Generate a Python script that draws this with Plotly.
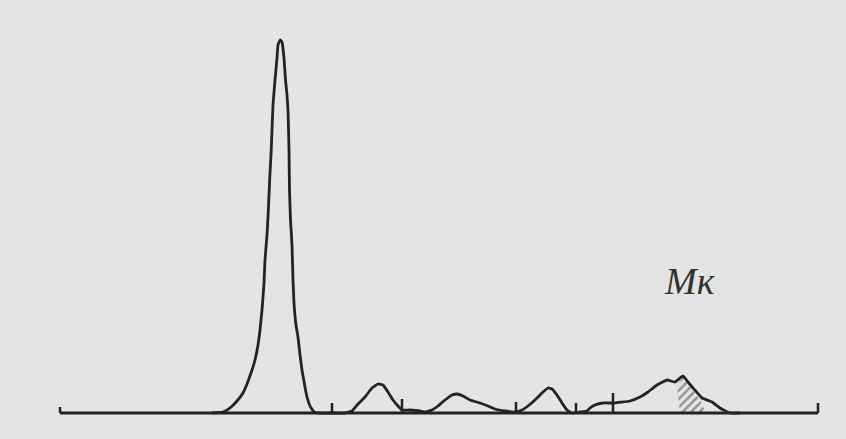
import plotly.graph_objects as go

# Densitogram (electrophoresis scan); x = position along strip, y = optical density
# positions/densities (arbitrary units)
X0, Y0 = 60, 413  # reference origin of reading grid

curve_x = [212, 223, 230, 237, 243, 247, 251, 255, 258, 260, 262, 263, 264, 265, 267, 268, 269, 270, 271, 272, 273, 275, 277, 278, 280, 282, 284, 285.5, 287, 288, 289, 289.5, 290.5, 292, 293, 294, 296, 298, 300, 302, 305, 307, 310, 314, 318,
           332, 345, 352, 358, 365, 372, 378, 383, 388, 393, 398, 402, 410, 420, 425, 432, 438, 445, 452, 457, 463, 470, 480, 488, 495, 505, 515,
           522, 528, 535, 542, 548, 552, 557, 562, 567, 572, 580, 587, 590, 595, 603, 613, 630, 640, 648, 657, 667, 675, 683, 688, 693, 702, 712, 720, 730, 740]
curve_y = [413, 412, 408, 401, 393, 384, 373, 360, 345, 330, 310, 297, 283, 260, 235, 217, 195, 173, 155, 130, 105, 80, 58, 45, 40, 42, 58, 80, 95, 110, 150, 190, 220, 245, 280, 303, 325, 337, 355, 370, 387, 397, 406, 412, 413,
           413, 413, 411, 404, 397, 388, 384, 385, 392, 400, 406, 410, 410, 411, 412, 410, 406, 400, 395, 394, 396, 400, 403, 406, 409, 411, 412,
           410, 406, 400, 393, 388, 389, 395, 403, 410, 413, 412, 411, 408, 405, 403, 403, 401, 397, 392, 385, 380, 382, 376, 382, 388, 398, 402, 408, 413, 413]

hatch_x = [683, 677, 680, 706, 700, 693, 688, 683]
hatch_y = [377, 386, 413, 413, 400, 390, 383, 377]

tick_x = [60, 332, 402, 516, 576, 613, 818]
tick_top = [407, 403, 399, 402, 403, 393, 403]

baseline_x = [60, 818]

label_text = "Мк"

def dx(v):
    return [p - X0 for p in v]

def dy(v):
    return [Y0 - p for p in v]

fig = go.Figure()
LC = "#232323"

# hatched area
fig.add_trace(go.Scatter(x=dx(hatch_x), y=dy(hatch_y), mode="lines", fill="toself",
                         line=dict(color="rgba(0,0,0,0)", width=0),
                         fillcolor="rgba(0,0,0,0)",
                         fillpattern=dict(shape="/", fgcolor="#3a3a3a", bgcolor="rgba(0,0,0,0)", size=6, solidity=0.4),
                         showlegend=False, hoverinfo="skip"))

# baseline
fig.add_trace(go.Scatter(x=dx(baseline_x), y=dy([Y0, Y0]), mode="lines",
                         line=dict(color=LC, width=3), showlegend=False))

# divider ticks
tx, ty = [], []
for xv, top in zip(tick_x, tick_top):
    tx += [xv - X0, xv - X0, None]
    ty += [0, Y0 - top, None]
fig.add_trace(go.Scatter(x=tx, y=ty, mode="lines", line=dict(color=LC, width=2.5), showlegend=False))

# density curve
fig.add_trace(go.Scatter(x=dx(curve_x), y=dy(curve_y), mode="lines",
                         line=dict(color=LC, width=2.8, shape="spline", smoothing=0.3), showlegend=False))

fig.add_annotation(x=690 - X0, y=Y0 - 281, text=label_text, showarrow=False,
                   font=dict(family="Liberation Serif, DejaVu Serif, serif", size=38, color="#333333", style="italic"))

fig.update_layout(
    width=846, height=439,
    margin=dict(l=0, r=0, t=0, b=0),
    paper_bgcolor="#e4e4e4", plot_bgcolor="#e4e4e4",
    xaxis=dict(range=[-X0, 846 - X0], visible=False, fixedrange=True),
    yaxis=dict(range=[Y0 - 439, Y0], visible=False, fixedrange=True),
)
fig.write_html("out.html")
